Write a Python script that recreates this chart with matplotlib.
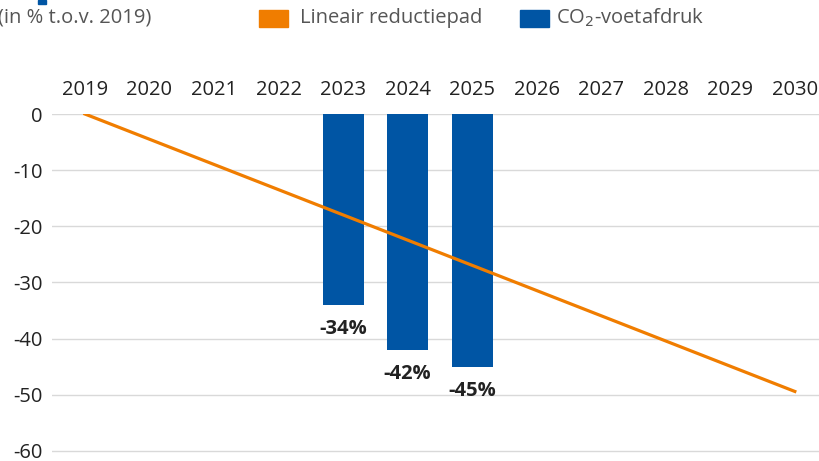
import matplotlib
matplotlib.use("Agg")
import matplotlib.pyplot as plt
from matplotlib.patches import Rectangle

plt.rcParams['font.family'] = ['Open Sans', 'DejaVu Sans']

years = [2019, 2020, 2021, 2022, 2023, 2024, 2025, 2026, 2027, 2028, 2029, 2030]
bar_years = [2023, 2024, 2025]
footprint = [-34, -42, -45]
path_years = [2019, 2030]
path_values = [0, -49.4]

ORANGE = '#F07D00'
BLUE = '#0055A4'
TEXT = '#222222'
GREY = '#555555'

fig = plt.figure(figsize=(8.2, 4.61), dpi=100)
# plot area: x 52..820, y 114..453 px
ax = fig.add_axes([52/820, 8/461, 768/820, 339/461])

idx = {y: i for i, y in enumerate(years)}
bx = [idx[y] for y in bar_years]
ax.bar(bx, footprint, width=0.635, color=BLUE, zorder=3)
for x, v in zip(bx, footprint):
    ax.annotate(f'{v}%', (x, v), xytext=(0, -10), textcoords='offset points',
                ha='center', va='top', fontsize=14.5, fontweight='bold',
                color=TEXT)

ax.plot([idx[y] for y in path_years], path_values, color=ORANGE, lw=2.3, zorder=4)

ax.set_xlim(-0.51, 11.39)
ax.set_ylim(-60.36, 0)
ax.set_yticks(range(0, -61, -10))
ax.set_yticklabels([str(v) for v in range(0, -61, -10)])
ax.grid(axis='y', color='#d9d9d9', lw=1, zorder=0)
ax.set_xticks(range(len(years)))
ax.set_xticklabels([str(y) for y in years])
ax.xaxis.tick_top()
ax.tick_params(axis='x', length=0, pad=10, labelsize=14.5, colors=TEXT)
ax.tick_params(axis='y', length=0, pad=6.5, labelsize=14.5, colors=TEXT)
for s in ax.spines.values():
    s.set_visible(False)

fig.text(-0.003, 1 - 18/461, '(in % t.o.v. 2019)', fontsize=14.5, color=GREY,
         ha='left', va='center')
fig.patches.append(Rectangle((38/820, 1 - 4/461), 8/820, 4/461, color=BLUE,
                             transform=fig.transFigure, figure=fig))
fig.patches.append(Rectangle((259/820, 1 - 27/461), 29/820, 17/461, color=ORANGE,
                             transform=fig.transFigure, figure=fig))
fig.text(300/820, 1 - 18/461, 'Lineair reductiepad', fontsize=14.5, color=GREY,
         ha='left', va='center')
fig.patches.append(Rectangle((520/820, 1 - 27/461), 29/820, 17/461, color=BLUE,
                             transform=fig.transFigure, figure=fig))
fig.text(556/820, 1 - 18/461, 'CO$_2$-voetafdruk', fontsize=14.5, color=GREY,
         ha='left', va='center')

fig.savefig('out.png', dpi=100)
